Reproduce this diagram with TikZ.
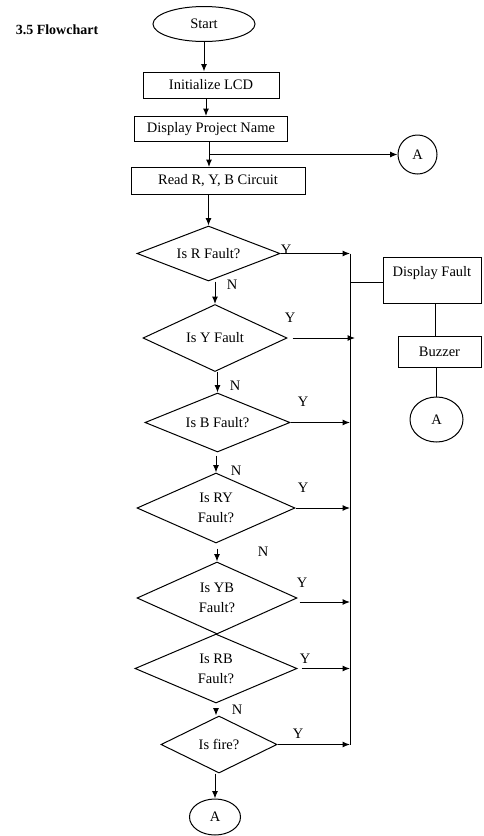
\documentclass[tikz,border=0pt]{standalone}
\usepackage{fontspec}
\setmainfont{Liberation Serif}
\usetikzlibrary{shapes.geometric,arrows.meta}
\begin{document}
\begin{tikzpicture}[x=1pt,y=-1pt,line width=1pt,
  font=\fontsize{14.5}{20}\selectfont,
  box/.style={draw,rectangle,inner sep=0pt},
  dia/.style={draw,diamond,inner sep=0pt,align=center},
  conn/.style={draw,ellipse,inner sep=0pt},
  arr/.style={-{Latex[length=7.5pt,width=6pt]}},
  lab/.style={inner sep=0pt}]
\useasboundingbox (0,0) rectangle (483,836);
\fill[white] (0,0) rectangle (483,836);
\node[lab,font=\fontsize{14}{17}\selectfont\bfseries] (title) at (57,30) {3.5 Flowchart};
% main column
\node[conn,minimum width=102pt,minimum height=35pt] (start) at (204,24) {Start};
\node[box,minimum width=136pt,minimum height=26pt] (init) at (211,85) {Initialize LCD};
\node[box,minimum width=153pt,minimum height=25pt] (disp) at (211,129) {Display Project Name};
\node[box,minimum width=174pt,minimum height=27pt] (read) at (218,181) {Read R, Y, B Circuit};
\node[conn,minimum width=39pt,minimum height=39pt] (A1) at (417.5,154.5) {A};
\node[dia,aspect=2.6,minimum width=143pt,minimum height=55pt] (dR) at (208.5,253.5) {Is R Fault?};
\node[dia,aspect=2.15,minimum width=144pt,minimum height=67pt] (dY) at (215,338) {Is Y Fault};
\node[dia,aspect=2.45,minimum width=145pt,minimum height=59pt] (dB) at (217.5,422.5) {Is B Fault?};
\node[dia,aspect=2.26,minimum width=158pt,minimum height=70pt] (dRY) at (216,508) {Is RY\\Fault?};
\node[dia,aspect=2.22,minimum width=160pt,minimum height=72pt] (dYB) at (217,598) {Is YB\\Fault?};
\node[dia,aspect=2.35,minimum width=162pt,minimum height=69pt] (dRB) at (216,668.5) {Is RB\\Fault?};
\node[dia,aspect=2.03,minimum width=116pt,minimum height=57pt] (dF) at (219,744.5) {Is fire?};
\node[conn,minimum width=51pt,minimum height=36pt] (A3) at (215,817) {A};
% right column
\node[box,minimum width=98pt,minimum height=46pt,text depth=18pt] (df) at (432,280) {Display Fault};
\node[box,minimum width=83pt,minimum height=31pt] (buz) at (439.5,351.5) {Buzzer};
\node[conn,minimum width=53pt,minimum height=45pt] (A2) at (436.5,419.5) {A};
% bus
\coordinate (busT) at (350,253.5);
\coordinate (busB) at (350,744.5);
\draw (busT) -- (busB);
% vertical flow
\draw[arr] (start.south) -- (start.south |- init.north);
\draw[arr] (init.south -| 206,0) -- (206,0 |- disp.north);
\draw[arr] (disp.south -| 209,0) -- (209,0 |- read.north);
\coordinate (j1) at (209,154.5);
\draw[arr] (j1) -- (j1 -| A1.west);
\draw[arr] (dR.north |- read.south) -- (dR.north);
\draw[arr] (dY.north |- dR.south) -- (dY.north);
\draw[arr] (dB.north |- dY.south) -- (dB.north);
\draw[arr] ([yshift=-3pt]dRY.north |- dB.south) -- (dRY.north);
\draw[arr] ([yshift=-5pt]dYB.north |- dRY.south) -- (dYB.north);
\draw[arr] ([yshift=-8pt]dRB.south) -- (dRB.south |- dF.north);
\draw[arr] (dF.south -| A3.north) -- (A3.north);
% yes branches
\draw[arr] (dR.east) -- (dR.east -| busT);
\draw[arr] ([xshift=5pt]dY.east) -- ([xshift=5pt]dY.east -| busT);
\draw[arr] (dB.east) -- (dB.east -| busT);
\draw[arr] (dRY.east) -- (dRY.east -| busT);
\draw[arr] ([xshift=2pt,yshift=-4pt]dYB.east) -- ([yshift=-4pt]dYB.east -| busT);
\draw[arr] ([xshift=4pt]dRB.east) -- (dRB.east -| busT);
\draw[arr] (dF.east) -- (dF.east -| busT);
% right column links
\draw (df.west |- 0,282) -- (busT |- 0,282);
\draw ([xshift=3pt]df.south) -- ([xshift=3pt]df.south |- buz.north);
\draw (buz.south -| A2.north) -- (A2.north);
% labels
\node[lab] (yR) at (286,250) {Y};
\node[lab] (yY) at (290,318) {Y};
\node[lab] (yB) at (303,402) {Y};
\node[lab] (yRY) at (303,488) {Y};
\node[lab] (yYB) at (302,583) {Y};
\node[lab] (yRB) at (305,659) {Y};
\node[lab] (yF) at (298,734) {Y};
\node[lab] (nR) at (232,285) {N};
\node[lab] (nY) at (235,386) {N};
\node[lab] (nB) at (236,471) {N};
\node[lab] (nRY) at (263,552) {N};
\node[lab] (nRB) at (237,710) {N};
\end{tikzpicture}
\end{document}
